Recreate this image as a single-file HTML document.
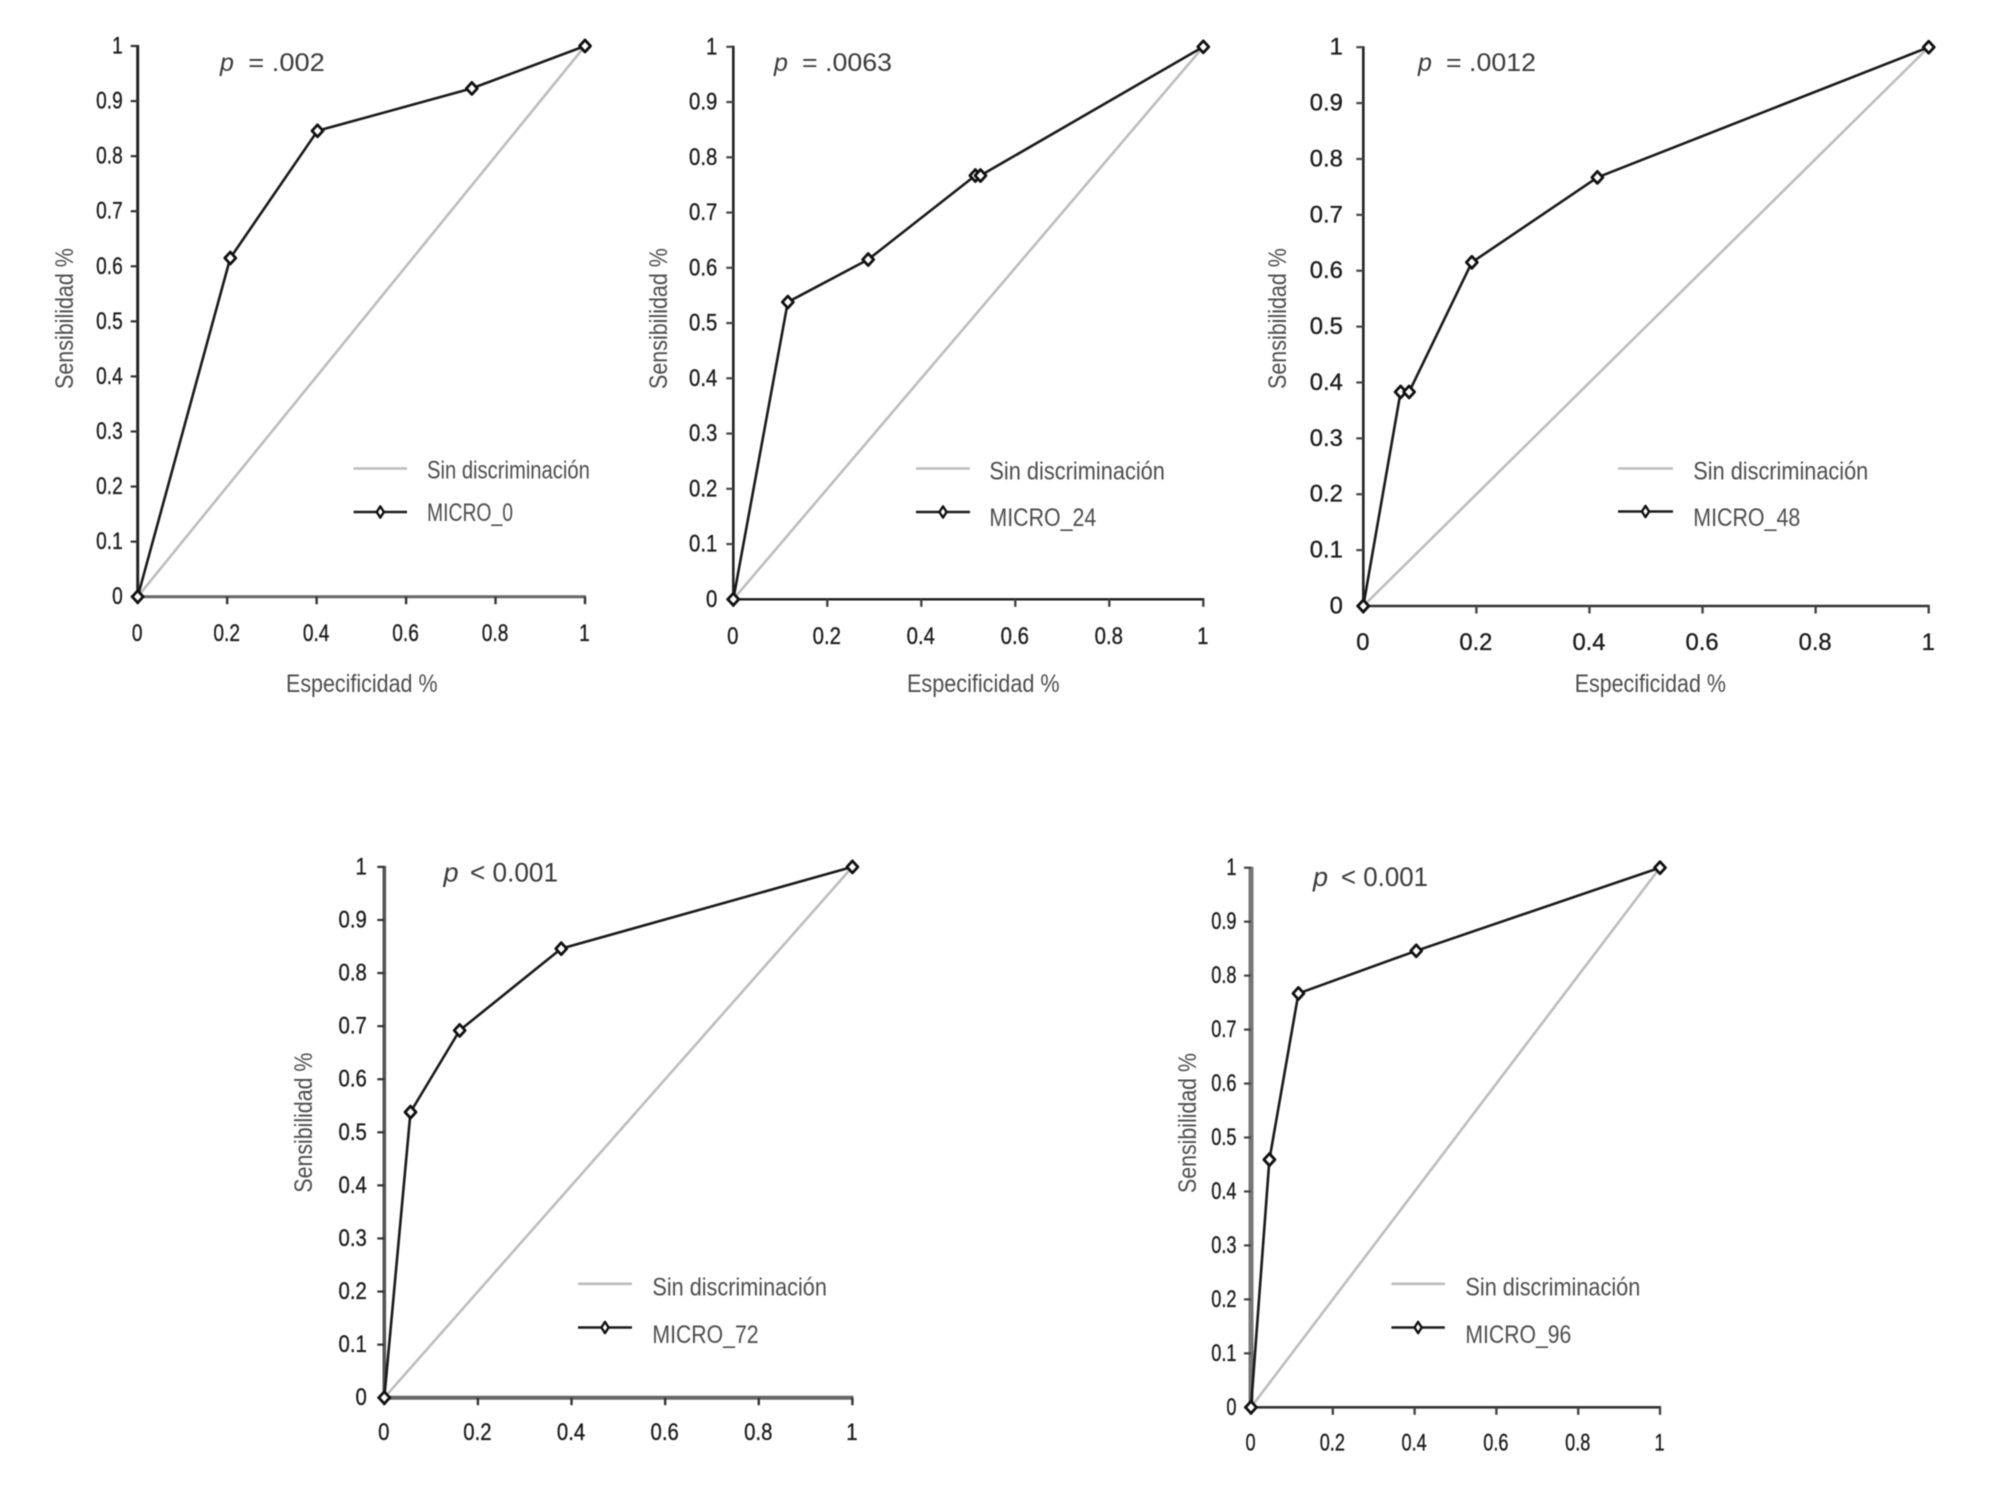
<!DOCTYPE html>
<html lang="es">
<head>
<meta charset="utf-8">
<title>Curvas ROC MICRO</title>
<style>
html,body{margin:0;padding:0;background:#fff;width:2004px;height:1495px;overflow:hidden}
svg{display:block;filter:blur(0.55px)}
text{font-family:"Liberation Sans",Arial,sans-serif}
</style>
</head>
<body>
<svg id="chart" xmlns="http://www.w3.org/2000/svg" width="2004" height="1495" viewBox="0 0 2004 1495"></svg>
<script>
const xTicks = [0, 0.2, 0.4, 0.6, 0.8, 1];
const yTicks = [0, 0.1, 0.2, 0.3, 0.4, 0.5, 0.6, 0.7, 0.8, 0.9, 1];
const xTickLabels = ['0', '0.2', '0.4', '0.6', '0.8', '1'];
const yTickLabels = ['0', '0.1', '0.2', '0.3', '0.4', '0.5', '0.6', '0.7', '0.8', '0.9', '1'];
const diagonalValues = [0, 1];

const micro0Spec = [0, 0.207, 0.402, 0.747, 1];
const micro0Sens = [0, 0.615, 0.846, 0.923, 1];
const micro24Spec = [0, 0.116, 0.287, 0.515, 0.526, 1];
const micro24Sens = [0, 0.538, 0.615, 0.767, 0.767, 1];
const micro48Spec = [0, 0.066, 0.081, 0.192, 0.414, 1];
const micro48Sens = [0, 0.383, 0.383, 0.615, 0.767, 1];
const micro72Spec = [0, 0.056, 0.161, 0.378, 1];
const micro72Sens = [0, 0.538, 0.692, 0.846, 1];
const micro96Spec = [0, 0.045, 0.116, 0.404, 1];
const micro96Sens = [0, 0.459, 0.767, 0.846, 1];

const panels = [
  {id:'micro-0', series:'MICRO_0', spec:micro0Spec, sens:micro0Sens, pval:'= .002',
   x0:137.7, x1:585, y0:596.7, y1:46, xAxisW:3, xAxisC:'#666', yAxisW:3, yAxisC:'#222', tickC:'#333', tickSx:0.78, yLabGap:15, xLabGap:44.5,
   pX:220, pEqX:248.3, pW:76.5, pY:70.8, pFs:25,
   legX0:353.6, legX1:407, legGrayY:468.5, legBlackY:512, legTextX:427, legSinW:163, legSinY:478.5, legSerW:86, legSerY:521,
   xTitle:[286,151.6,692], yTitle:[73,248,141]},
  {id:'micro-24', series:'MICRO_24', spec:micro24Spec, sens:micro24Sens, pval:'= .0063',
   x0:733.3, x1:1203.3, y0:599.3, y1:46.8, xAxisW:2.4, xAxisC:'#1a1a1a', yAxisW:2.6, yAxisC:'#222', tickC:'#444', tickSx:0.83, yLabGap:16, xLabGap:44.7,
   pX:774, pEqX:802, pW:90, pY:71, pFs:25,
   legX0:916, legX1:970, legGrayY:468.5, legBlackY:512, legTextX:989.4, legSinW:175.6, legSinY:479.5, legSerW:107, legSerY:526,
   xTitle:[907,152.7,692], yTitle:[667,248,141]},
  {id:'micro-48', series:'MICRO_48', spec:micro48Spec, sens:micro48Sens, pval:'= .0012',
   x0:1363.3, x1:1928.7, y0:606, y1:47.2, xAxisW:2.6, xAxisC:'#333', yAxisW:2.6, yAxisC:'#222', tickC:'#444', tickSx:0.97, yLabGap:20.5, xLabGap:44,
   pX:1418, pEqX:1446, pW:90, pY:71, pFs:25,
   legX0:1618, legX1:1673, legGrayY:468.5, legBlackY:511.5, legTextX:1693.3, legSinW:175, legSinY:479.5, legSerW:107, legSerY:526,
   xTitle:[1574.7,151.3,692], yTitle:[1286,248,141]},
  {id:'micro-72', series:'MICRO_72', spec:micro72Spec, sens:micro72Sens, pval:'< 0.001',
   x0:384.3, x1:852.4, y0:1397.7, y1:866.9, xAxisW:4, xAxisC:'#666', yAxisW:3.6, yAxisC:'#555', tickC:'#333', tickSx:0.83, yLabGap:17.5, xLabGap:42.5,
   pX:443.5, pEqX:470, pW:88, pY:881.7, pFs:27,
   legX0:578, legX1:632, legGrayY:1283.8, legBlackY:1327.5, legTextX:652.4, legSinW:174.6, legSinY:1295.6, legSerW:106.2, legSerY:1343,
   xTitle:null, yTitle:[312,1052.6,140]},
  {id:'micro-96', series:'MICRO_96', spec:micro96Spec, sens:micro96Sens, pval:'< 0.001',
   x0:1251, x1:1660, y0:1407.3, y1:867.7, xAxisW:2.6, xAxisC:'#333', yAxisW:5, yAxisC:'#777', tickC:'#444', tickSx:0.74, yLabGap:14.5, xLabGap:43.4,
   pX:1313, pEqX:1341, pW:87, pY:886, pFs:27,
   legX0:1391.4, legX1:1444.8, legGrayY:1283.8, legBlackY:1327.5, legTextX:1465.4, legSinW:175, legSinY:1295.6, legSerW:106, legSerY:1343,
   xTitle:null, yTitle:[1196,1053,140]}
];

const NS = 'http://www.w3.org/2000/svg';
const svg = document.getElementById('chart');

function make(parent, tag, attrs) {
  const el = document.createElementNS(NS, tag);
  for (const k in attrs) el.setAttribute(k, attrs[k]);
  parent.appendChild(el);
  return el;
}

function addText(parent, name, str, x, y, o) {
  const el = make(parent, 'text', {
    'font-size': o.fs,
    fill: o.fill,
    'text-anchor': o.anchor || 'start',
    'font-style': o.italic ? 'italic' : 'normal'
  });
  if (o.bold) {
    el.setAttribute('stroke', o.fill);
    el.setAttribute('stroke-width', o.bold);
  }
  
  
  el.textContent = str;
  let sx = o.sx || 1;
  if (o.width) sx = o.width / el.getComputedTextLength();
  el.setAttribute('transform', 'translate(' + x + ' ' + y + ')' + (o.rot ? ' rotate(' + o.rot + ')' : '') + ' scale(' + sx + ' 1)');
  return el;
}

function addLine(parent, name, x1, y1, x2, y2, stroke, width) {
  const el = make(parent, 'line', {x1: x1, y1: y1, x2: x2, y2: y2, stroke: stroke, 'stroke-width': width});
  
  
  return el;
}

function addDiamond(parent, name, cx, cy, hw, hh, sw) {
  const el = make(parent, 'polygon', {
    points: [cx, cy - hh, cx + hw, cy, cx, cy + hh, cx - hw, cy].join(','),
    fill: '#fff', stroke: '#111', 'stroke-width': sw, 'stroke-linejoin': 'round'
  });
  
  
  return el;
}

function drawPanel(p) {
  const sx = function (v) { return p.x0 + (p.x1 - p.x0) * v; };
  const sy = function (v) { return p.y0 + (p.y1 - p.y0) * v; };

  const g = make(svg, 'g', {});
  
  

  // diagonal reference
  const diagonal = make(g, 'polyline', {
    points: diagonalValues.map(function (v) { return sx(v) + ',' + sy(v); }).join(' '),
    fill: 'none', stroke: '#bdbdbd', 'stroke-width': 2.6
  });
  
  

  // axes
  addLine(g, 'y-axis', p.x0, p.y1 - 1, p.x0, p.y0 + 1, p.yAxisC, p.yAxisW);
  addLine(g, 'x-axis', p.x0 - 1, p.y0, p.x1 + 1, p.y0, p.xAxisC, p.xAxisW);

  yTicks.forEach(function (v, i) {
    addLine(g, 'y-tick', p.x0 - 7, sy(v), p.x0, sy(v), p.tickC, 2.2);
    addText(g, 'y-tick-label', yTickLabels[i], p.x0 - p.yLabGap, sy(v) + 7.5, {fs: 24.5, fill: '#1c1c1c', anchor: 'end', sx: p.tickSx, bold: 0.35});
  });
  xTicks.forEach(function (v, i) {
    addLine(g, 'x-tick', sx(v), p.y0, sx(v), p.y0 + 7.5, p.tickC, 2.4);
    addText(g, 'x-tick-label', xTickLabels[i], sx(v) - 0.5, p.y0 + p.xLabGap, {fs: 24.5, fill: '#1c1c1c', anchor: 'middle', sx: p.tickSx, bold: 0.35});
  });

  // series
  const curve = make(g, 'polyline', {
    points: p.spec.map(function (v, i) { return sx(v) + ',' + sy(p.sens[i]); }).join(' '),
    fill: 'none', stroke: '#1a1a1a', 'stroke-width': 2.6, 'stroke-linejoin': 'round'
  });
  
  
  p.spec.forEach(function (v, i) {
    addDiamond(g, 'roc-point', sx(v), sy(p.sens[i]), 5.5, 6, 2.8);
  });

  // titles
  if (p.xTitle) addText(g, 'x-axis-title', 'Especificidad %', p.xTitle[0], p.xTitle[2], {fs: 25, fill: '#4d4d4d', width: p.xTitle[1]});
  addText(g, 'y-axis-title', 'Sensibilidad %', p.yTitle[0], p.yTitle[1] + p.yTitle[2], {fs: 25, fill: '#4d4d4d', rot: -90, width: p.yTitle[2]});

  // p value
  addText(g, 'p-value-symbol', 'p', p.pX, p.pY, {fs: p.pFs, fill: '#3a3a3a', italic: true});
  addText(g, 'p-value', p.pval, p.pEqX, p.pY, {fs: p.pFs, fill: '#3a3a3a', width: p.pW});

  // legend
  addLine(g, 'legend-no-discrimination-swatch', p.legX0, p.legGrayY, p.legX1, p.legGrayY, '#bdbdbd', 2.6);
  addText(g, 'legend-no-discrimination-label', 'Sin discriminación', p.legTextX, p.legSinY, {fs: 25, fill: '#4d4d4d', width: p.legSinW});
  addLine(g, 'legend-series-swatch', p.legX0, p.legBlackY, p.legX1, p.legBlackY, '#1a1a1a', 2.4);
  addDiamond(g, 'legend-series-marker', (p.legX0 + p.legX1) / 2, p.legBlackY, 3.6, 5.6, 2.4);
  addText(g, 'legend-series-label', p.series, p.legTextX, p.legSerY, {fs: 25, fill: '#4d4d4d', width: p.legSerW});
}

panels.forEach(drawPanel);
</script>
</body>
</html>
